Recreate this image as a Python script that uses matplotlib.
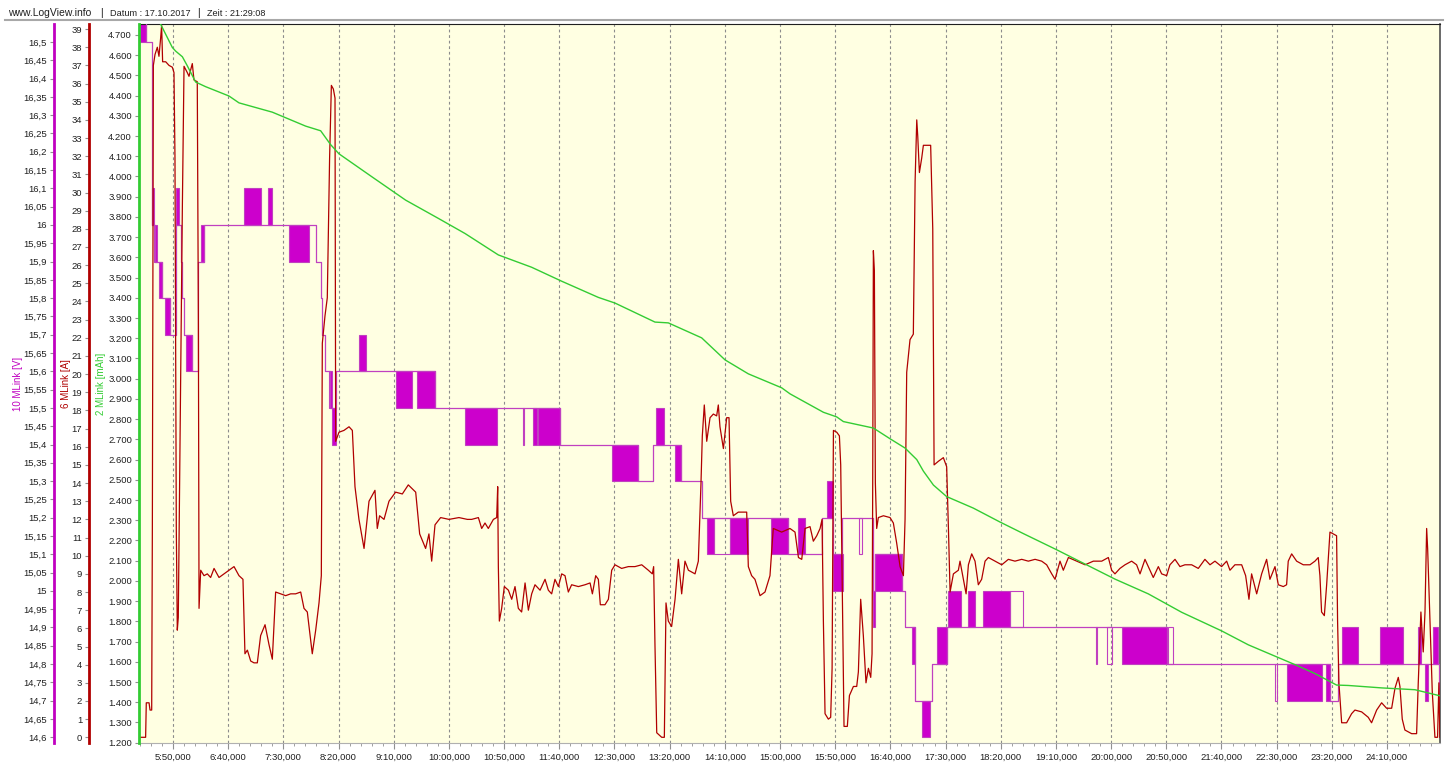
import matplotlib
matplotlib.use("Agg")
import matplotlib.pyplot as plt
from matplotlib.patches import Rectangle
from matplotlib.ticker import FixedLocator, MultipleLocator, FuncFormatter

plt.rcParams['font.family'] = ['Liberation Sans', 'DejaVu Sans']

# --- data (time in seconds) ---
amp_time = [319.2, 325.2, 325.8, 328.3, 329.2, 330.7, 331.3, 332.2, 333.7, 335.8, 337.3, 338.8, 339.7,
            340.6, 343.4, 346.4, 349.4, 350.9, 351.8, 353.0, 353.9, 354.8, 356.0, 357.3, 358.5, 360.0,
            363.0, 364.5, 367.5, 369.0, 372.0, 373.0, 373.6, 375.1, 378.1, 381.1, 384.1, 387.2, 391.7,
            396.2, 400.7, 405.3, 409.8, 413.4, 415.2, 417.4, 420.4, 423.4, 426.4, 429.4, 433.4, 437.0,
            440.0, 443.0, 447.6, 452.1, 456.6, 461.1, 465.7, 468.7, 471.7, 476.2, 479.3, 482.3, 484.4,
            485.3, 487.7, 489.8, 491.9, 493.5, 495.3, 496.8, 497.4, 500.4, 504.9, 509.5, 512.5, 514.9,
            518.5, 523.1, 527.6, 533.0, 535.1, 537.2, 541.2, 545.7, 551.7, 557.8, 563.2, 569.9, 573.5,
            578.9, 581.9, 584.4, 587.4, 592.5, 600.1, 609.1, 616.7,
            620.6, 626.7, 629.7, 632.7, 635.7, 640.3, 643.3, 644.2, 644.8, 645.7, 647.8, 650.2, 653.9,
            656.9, 659.9, 662.9, 665.9, 669.0, 672.0, 675.0, 678.0, 682.6, 687.1, 690.1, 693.1, 696.1,
            699.2, 702.2, 705.2, 708.2, 711.2, 717.3, 723.3, 727.9, 730.0, 733.0, 735.4, 737.2, 741.4,
            744.5, 747.5, 750.5, 756.5, 762.6, 768.6, 774.7, 780.7, 784.3, 785.5, 786.7, 788.3, 792.8,
            795.2, 796.7, 798.8, 801.8, 804.9, 807.9, 810.9, 813.9, 817.0, 823.0, 826.0, 828.4, 829.6,
            831.4, 833.6, 836.6, 839.6, 842.6, 844.1, 845.6, 848.7, 851.7, 853.8, 855.3, 857.7, 862.2,
            869.8, 871.3, 874.3, 877.3, 881.9, 886.4, 890.9, 893.9, 901.5, 909.0,
            913.6, 916.7, 919.7, 922.7, 927.2, 930.2, 933.3, 936.3, 938.1, 939.3, 940.8, 943.8, 945.9,
            947.2, 948.4, 951.4, 953.8, 955.0, 956.5, 958.0, 961.0, 962.9, 966.5, 969.5, 971.0, 973.1,
            975.5, 977.9, 980.1, 982.2, 983.4, 984.0, 984.6, 985.5, 986.4, 987.6, 989.1, 993.7, 999.7,
            1002.7, 1005.7, 1008.8, 1011.8, 1013.3, 1014.8, 1017.8, 1020.8, 1022.4, 1023.9, 1024.8,
            1026.3, 1028.4, 1029.9, 1036.5, 1038.4, 1039.6, 1043.5, 1048.0, 1051.0, 1052.6, 1054.1,
            1057.1, 1061.6, 1063.1, 1066.1, 1068.6, 1070.7, 1073.7, 1076.7, 1079.7, 1082.7, 1085.8,
            1088.8, 1094.8, 1100.9, 1106.9, 1112.9, 1119.0, 1125.0, 1131.1, 1137.1, 1141.6, 1146.2,
            1149.2, 1153.7, 1156.7, 1161.3, 1168.8, 1176.4, 1183.9, 1191.5, 1197.5, 1200.5, 1203.5,
            1208.0, 1212.6, 1218.6, 1223.1, 1226.2, 1230.7, 1233.7, 1238.2, 1242.8, 1245.8, 1250.3,
            1253.3, 1257.9, 1262.4, 1266.9, 1273.0, 1279.0, 1285.0, 1289.6, 1294.1, 1300.1, 1304.7,
            1307.7, 1312.2, 1318.3, 1321.9, 1324.9, 1327.3, 1331.9, 1336.4, 1340.9, 1343.9, 1348.5,
            1351.5, 1356.0, 1359.0, 1360.5, 1363.6, 1368.1, 1374.1, 1380.2, 1384.7, 1387.7, 1389.2,
            1390.7, 1393.2, 1395.3, 1398.3, 1401.3, 1404.3, 1405.2, 1406.4, 1408.9, 1413.4, 1417.9,
            1420.9, 1427.0, 1433.0, 1436.0, 1440.6, 1445.1, 1449.6, 1454.2, 1457.2, 1460.2, 1461.7,
            1463.8, 1466.2, 1472.3, 1476.8, 1478.3, 1480.7, 1482.8, 1484.4, 1485.9, 1486.8, 1488.9,
            1491.0, 1493.4, 1495.8, 1497.0, 1497.9]
amp_value = [0.0, 0.0, 1.9, 1.9, 1.5, 1.5, 11.5, 37.0, 37.6, 38.0, 37.5, 38.5, 39.2,
             37.2, 37.2, 37.0, 36.9, 36.6, 31.9, 11.5, 5.9, 6.6, 14.0, 21.7, 29.3, 36.95,
             36.6, 36.4, 37.1, 36.2, 36.1, 22.9, 7.1, 9.2, 8.9, 9.0, 8.8, 9.3, 8.8,
             9.0, 9.2, 9.4, 8.9, 8.7, 4.6, 4.8, 4.2, 4.1, 4.1, 5.6, 6.2, 5.1,
             4.3, 8.0, 7.9, 7.8, 7.9, 7.9, 8.0, 7.1, 6.9, 4.6, 5.9, 7.4, 8.9,
             21.7, 23.2, 24.2, 31.9, 35.9, 35.7, 35.2, 16.3, 16.8, 16.9, 17.1, 16.9, 13.8,
             12.0, 10.4, 13.0, 13.6, 11.5, 12.2, 12.0, 13.0, 13.5, 13.4, 13.9, 13.5, 11.2,
             10.4, 11.2, 9.7, 11.7, 12.1, 12.0, 12.1, 12.0,
             12.0, 12.1, 11.5, 11.8, 11.5, 12.0, 12.1, 13.8, 9.4, 6.4, 7.1, 8.3, 8.1,
             7.6, 8.3, 7.1, 6.9, 8.5, 7.0, 7.9, 8.4, 8.1, 8.7, 8.1, 7.9, 8.7,
             8.3, 9.0, 8.9, 8.0, 8.4, 8.3, 8.4, 8.5, 7.9, 8.9, 8.7, 7.3, 7.3,
             7.6, 9.2, 9.5, 9.3, 9.4, 9.4, 9.5, 9.2, 9.0, 9.4, 5.1, 0.25, 0.0,
             0.0, 7.4, 6.4, 6.1, 7.6, 9.8, 7.9, 9.7, 9.2, 9.0, 9.7, 14.0, 16.6,
             18.3, 16.3, 17.6, 17.8, 17.7, 18.3, 17.1, 15.9, 17.6, 17.6, 13.0, 12.2, 12.4,
             12.4, 9.4, 8.9, 8.7, 7.8, 8.0, 8.9, 11.5, 11.3, 11.5,
             11.3, 9.9, 9.8, 11.5, 11.6, 10.8, 11.1, 11.5, 12.0, 6.4, 1.3, 1.0, 1.1,
             3.8, 16.9, 16.8, 16.6, 15.0, 7.6, 0.6, 0.6, 2.3, 2.8, 2.8, 3.6, 7.6,
             5.6, 3.0, 3.8, 3.3, 4.6, 14.0, 26.8, 25.7, 14.0, 11.5, 12.1, 12.2, 12.1,
             11.8, 10.7, 9.4, 8.9, 12.0, 20.1, 21.9, 22.2, 30.6, 34.0, 33.1,
             31.1, 31.9, 32.6, 32.6, 28.0, 15.0, 15.2, 15.4, 14.9, 11.5, 8.0,
             9.0, 9.2, 9.7, 8.7, 7.9, 9.5, 10.1, 9.7, 8.4, 8.7, 9.7,
             9.9, 9.7, 9.5, 9.8, 9.7, 9.8, 9.7, 9.8, 9.7, 9.5, 9.0,
             8.7, 9.7, 9.2, 9.9, 9.7, 9.5, 9.7, 9.7, 9.9, 9.2, 9.0,
             9.3, 9.5, 9.7, 9.5, 9.0, 9.8, 9.4, 8.8, 9.4, 9.0, 8.9,
             9.5, 9.8, 9.4, 9.5, 9.5, 9.3, 9.8, 9.5, 9.7, 9.4, 9.7,
             9.2, 9.5, 9.5, 8.9, 7.6, 9.0, 7.9, 9.0, 9.8, 8.7, 9.4,
             8.4, 8.3, 8.4, 9.7, 10.1, 9.7, 9.5, 9.5, 9.7, 9.9, 8.9,
             6.9, 6.7, 8.4, 11.3, 11.2, 11.1, 6.4, 3.0, 0.8, 0.8, 1.3,
             1.5, 1.4, 1.1, 0.8, 1.5, 1.9, 1.6, 1.6, 2.7, 3.3, 2.8,
             1.0, 0.4, 0.2, 0.2, 3.0, 6.9, 4.7, 6.9, 11.5, 10.4, 6.4,
             2.5, 0.0, 0.0, 3.0, 0.0]

mah_time = [335.8, 338.8, 349.4, 352.4, 358.5, 363.0, 370.5, 379.6, 400.7, 409.8, 440.0, 470.2, 483.8,
            492.9, 500.4, 530.6, 560.8, 591.0, 614.6, 644.8, 675.0, 702.2, 735.4, 750.5, 786.7,
            798.8, 829.0, 850.2, 871.3, 901.5, 909.1, 939.3, 951.4, 957.4, 984.6, 999.7, 1013.3,
            1023.9, 1029.9, 1039.0, 1051.0, 1075.2, 1099.4, 1120.5, 1150.7, 1171.8, 1203.5, 1233.7,
            1263.9, 1300.1, 1324.3, 1366.6, 1384.7, 1404.3, 1414.9, 1445.1, 1475.3, 1497.9]
mah_value = [4800, 4753, 4638, 4620, 4592, 4547, 4467, 4444, 4398, 4364, 4318, 4249, 4226,
             4157, 4112, 3997, 3883, 3791, 3718, 3612, 3551, 3482, 3402, 3374, 3280,
             3276, 3202, 3093, 3024, 2955, 2925, 2834, 2811, 2788, 2756, 2703, 2657,
             2600, 2543, 2474, 2417, 2360, 2291, 2234, 2154, 2096, 2009, 1936,
             1845, 1753, 1684, 1586, 1542, 1485, 1483, 1471, 1462, 1432]

# voltage: base step line plus bands where the value toggles between two levels
volt_time = [319.2, 325.8, 330.7, 333.4, 340.3, 347.0, 352.4, 357.0, 358.5, 360.0, 366.9, 373.0,
             378.4, 479.3, 483.8, 485.3, 487.7, 492.0, 497.4, 587.4, 700.7, 771.6, 785.2, 810.3,
             829.0, 907.5, 938.4, 947.8, 956.5, 984.0, 986.4, 1010.3, 1013.3, 1022.4, 1037.5,
             1051.0, 1250.3, 1398.3, 1405.2, 1497.0, 1498.0]
volt_value = [16.6, 16.5, 16.0, 15.9, 15.8, 15.7, 16.0, 15.9, 15.8, 15.7, 15.6, 15.9,
              16.0, 15.9, 15.8, 15.7, 15.6, 15.5, 15.6, 15.5, 15.4, 15.3, 15.4, 15.3,
              15.2, 15.1, 15.2, 15.1, 15.2, 15.0, 15.1, 15.0, 14.9, 14.7, 14.8,
              14.9, 14.8, 14.7, 14.8, 14.7, 14.7]

band_start = [319.8, 330.7, 333.1, 337.3, 342.8, 353.0, 361.5, 375.1, 414.3, 436.4, 455.1, 491.3,
              493.8, 518.5, 551.7, 571.4, 614.6, 667.5, 676.5, 681.0, 747.5, 787.6, 804.9, 833.6,
              840.5, 854.7, 891.8, 916.6, 942.3, 947.8, 971.6, 984.0, 986.4, 1019.3, 1028.4,
              1042.0, 1052.6, 1070.7, 1083.7, 1108.4, 1186.3, 1196.6, 1210.1, 1251.8, 1348.5,
              1359.0, 1394.4, 1409.5, 1443.6, 1477.7, 1484.4, 1491.9]
band_end = [325.8, 333.1, 335.8, 340.3, 347.0, 355.4, 366.9, 378.4, 429.4, 440.0, 473.2, 493.8,
            497.4, 524.6, 566.8, 587.4, 643.3, 668.4, 679.5, 700.7, 771.6, 795.2, 810.3, 840.5,
            854.7, 870.7, 907.5, 922.7, 947.8, 957.4, 974.6, 986.4, 1010.3, 1022.4, 1036.0,
            1051.0, 1063.7, 1076.7, 1108.4, 1120.5, 1187.5, 1200.5, 1250.3, 1256.4, 1350.0,
            1390.7, 1398.3, 1424.0, 1464.7, 1480.7, 1487.4, 1496.4]
band_low = [16.5, 16.0, 15.9, 15.8, 15.7, 16.0, 15.6, 15.9, 16.0, 16.0, 15.9, 15.5,
            15.4, 15.6, 15.5, 15.5, 15.4, 15.4, 15.4, 15.4, 15.3, 15.4, 15.3, 15.1,
            15.1, 15.1, 15.1, 15.1, 15.2, 15.0, 15.1, 14.9, 15.0, 14.8, 14.6,
            14.8, 14.9, 14.9, 14.9, 14.9, 14.8, 14.8, 14.8, 14.8, 14.7,
            14.7, 14.7, 14.8, 14.8, 14.8, 14.7, 14.8]
band_dense = [1, 1, 1, 1, 1, 1, 1, 1, 1, 1, 1, 1,
              1, 1, 1, 1, 1, 1, 1, 1, 1, 1, 1, 1,
              0, 1, 1, 1, 1, 1, 0, 1, 1, 1, 1,
              1, 1, 1, 1, 0, 0, 0, 1, 0, 0,
              1, 1, 1, 1, 1, 1, 1]
volt_step = 0.1

volt_ticks = [14.6 + 0.05 * i for i in range(39)]
amp_ticks = list(range(0, 40))
mah_ticks = list(range(1200, 4800, 100))

MAG = '#C000C0'
RED = '#B00000'
GREEN = '#33CC33'

fig = plt.figure(figsize=(14.5, 7.62), dpi=100)
fig.patch.set_facecolor('white')
rect = [139 / 1450, 1 - 743 / 762, 1301 / 1450, 719 / 762]
axV = fig.add_axes(rect, facecolor='#FFFFE2')
axA = axV.twinx()
axM = axV.twinx()

# voltage: toggling bands and step line
for t0, t1, lo, d in zip(band_start, band_end, band_low, band_dense):
    axV.add_patch(Rectangle((t0, lo), t1 - t0, volt_step,
                            facecolor='#CC00CC' if d else 'none',
                            edgecolor='#C040C0', lw=0.8, zorder=2))
axV.step(volt_time, volt_value, where='post', color='#C040C0', lw=0.9, zorder=3)
axA.plot(amp_time, amp_value, color=RED, lw=0.9)
axM.plot(mah_time, mah_value, color=GREEN, lw=1.0)

axV.set_xlim(319.2, 1498.0)
axV.set_ylim(14.5844, 16.549)
axA.set_ylim(-0.314, 39.28)
axM.set_ylim(1198.5, 4754)

# x axis
axV.xaxis.set_major_locator(MultipleLocator(50))
axV.xaxis.set_minor_locator(MultipleLocator(10))
axV.xaxis.set_major_formatter(FuncFormatter(lambda v, p: f"{int(v) // 60}:{int(v) % 60:02d},000"))
axV.tick_params(axis='x', which='major', length=4, color='#909090', labelsize=6.8,
                labelcolor='#202020', pad=3)
axV.tick_params(axis='x', which='minor', length=2, color='#909090')
axV.grid(axis='x', which='major', color='#8C8C8C', linestyle=(0, (2.5, 2.5)), lw=0.8, zorder=0)

# y axes, all on the left side
for ax, ticks, fmt, col, pos in [
        (axV, volt_ticks, lambda v, p: f"{v:.2f}".rstrip('0').rstrip('.').replace('.', ','), MAG, -0.06533),
        (axA, amp_ticks, lambda v, p: f"{int(round(v))}", RED, -0.03843),
        (axM, mah_ticks, lambda v, p: f"{int(round(v)):,}".replace(',', '.'), GREEN, 0.0)]:
    ax.yaxis.tick_left()
    ax.yaxis.set_label_position('left')
    ax.yaxis.set_major_locator(FixedLocator(ticks))
    ax.yaxis.set_major_formatter(FuncFormatter(fmt))
    ax.tick_params(axis='y', length=3, color='#909090', labelsize=6.8, labelcolor='#202020', pad=2)
    ax.spines['left'].set_position(('axes', pos))
    ax.spines['left'].set_color(col)
    ax.spines['left'].set_linewidth(2)
    ax.spines['left'].set_visible(True)

for ax in (axA, axM):
    for s in ('top', 'bottom', 'right'):
        ax.spines[s].set_visible(False)
axV.spines['top'].set_color('#202020')
axV.spines['right'].set_color('#505050')
axV.spines['right'].set_linewidth(1.2)
axV.spines['bottom'].set_color('#B0B0B0')

# axis titles
ymid = 1 - 384 / 762
fig.text(18 / 1450, ymid, '10 MLink [V]', rotation=90, color=MAG, fontsize=7, ha='center', va='center')
fig.text(66 / 1450, ymid, '6 MLink [A]', rotation=90, color=RED, fontsize=7, ha='center', va='center')
fig.text(101 / 1450, ymid, '2 MLink [mAh]', rotation=90, color=GREEN, fontsize=7, ha='center', va='center')

# header
hy = 1 - 13 / 762
fig.text(8 / 1450, hy, 'www.LogView.info', fontsize=7.5, color='#202020', va='center')
fig.text(100 / 1450, hy, '|', fontsize=7.5, color='#202020', va='center')
fig.text(110 / 1450, hy, 'Datum : 17.10.2017', fontsize=6.6, color='#202020', va='center')
fig.text(197 / 1450, hy, '|', fontsize=7.5, color='#202020', va='center')
fig.text(207 / 1450, hy, 'Zeit : 21:29:08', fontsize=6.6, color='#202020', va='center')
fig.add_artist(plt.Line2D([5 / 1450, 1443 / 1450], [1 - 20 / 762, 1 - 20 / 762],
                          transform=fig.transFigure, color='#A8A8A8', lw=1.5))

fig.savefig('out.png', dpi=100)
